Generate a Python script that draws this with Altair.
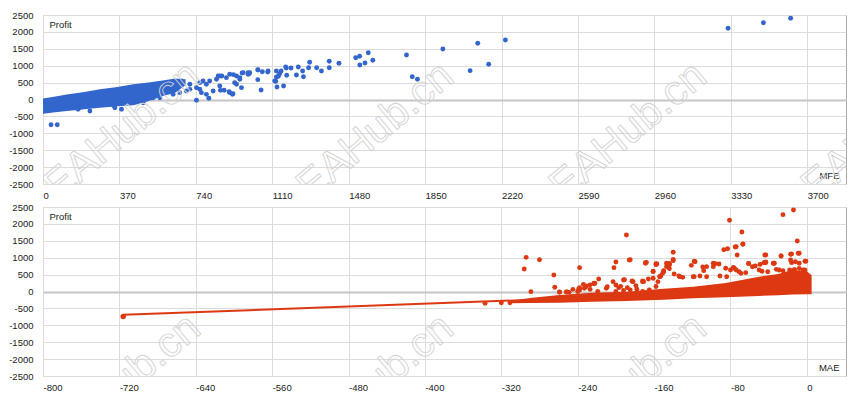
import altair as alt
import pandas as pd

# ---------- top panel: MFE vs Profit ----------
mfe_x = [3317, 3488, 3620, 2239, 2105, 2158, 2068, 1936, 1760, 1788, 1813,
         1575, 1533, 1514, 1597, 1559, 1534, 1433, 1386, 1386, 1348, 1325, 1291, 1286, 1257, 1261,
         1236, 1227, 1201, 1175, 1180, 1153, 1140, 1127, 1165, 1133, 1088, 1056, 1040, 1062, 1040,
         998, 964, 953, 922, 917, 901, 866, 859, 803, 743, 961, 928, 1122, 1130, 1146, 1178, 1130,
         1041, 1090, 993, 969, 937, 904, 888, 856, 840, 807, 791, 759, 743, 711, 694, 662, 630,
         937, 904, 824, 791, 767, 953, 1001, 848, 856, 759, 775, 711, 671, 877, 920, 993,
         566, 533, 485, 445, 380, 348, 340, 39, 69, 170, 227]
mfe_profit = [2106, 2272, 2402, 1760, 1663, 1041, 853, 1494, 1317, 675, 598,
              1385, 1278, 1237, 1160, 1080, 1021, 1071, 1130, 941, 843, 941, 1100, 941, 843, 675,
              962, 725, 932, 962, 716, 843, 686, 538, 400, 370, 814, 281, 883, 823, 587,
              764, 784, 646, 735, 154, 232, 696, 271, 35, -24, 350, 498, 547, 666, 765, 932, 843,
              873, 843, 745, 794, 696, 745, 646, 696, 597, 547, 449, 498, 350, 301, 252, 202, 153,
              449, 202, 252, 153, 202, 597, 794, 695, 400, 302, 547, 450, 547, 272, 172, 793,
              53, 53, -95, -44, -290, -243, -172, -745, -745, -290, -340]

# dense band outline (top panel)
mfe_band_x = [0, 60, 115, 200, 276, 360, 437, 480, 520, 580, 640, 690]
mfe_band_hi = [30, 90, 150, 220, 300, 370, 449, 480, 510, 560, 620, 600]
mfe_band_lo = [-420, -380, -340, -290, -241, -200, -170, -100, -30, 100, 200, 420]

# ---------- bottom panel: MAE vs Profit ----------
mae_x = [-14, -25, -81, -68, -189, -10, -67, -75, -87, -83, -140, -73, -43, -27, -16, -8,
         -294, -280, -185, -140, -200, -169, -158, -144, -118, -98, -43, -34, -16, -1,
         -296, -238, -202, -265, -289, -264, -259, -251, -218, -223, -239, -192, -183, -172, -166,
         -161, -150, -144, -139, -153, -134, -130,
         -118, -108, -105, -98, -92, -85, -80, -76, -71, -61, -54, -45, -47, -35, -29, -14, -8, -4,
         -209, -200, -195, -188, -179, -197, -234, -238, -245, -227, -249,
         -203, -191, -183, -172, -186, -169, -158, -231, -227, -223, -233, -240,
         -219, -210, -200, -192, -185, -178, -172, -165,
         -158, -154, -151, -147, -144, -161, -156, -337, -320, -311,
         -74, -67, -140, -144, -168, -157, -117, -121, -109, -96,
         -61, -49, -44, -43, -35, -27, -17, -9, -2, -17, -12,
         -222, -231, -238, -252, -259, -182, -171, -161, -154, -150, -147,
         -133, -119, -112, -105, -91, -84, -77, -74, -69, -64, -57, -50, -41, -32, -25, -18, -13, -8, -2]
mae_profit = [2411, 2273, 2106, 1760, 1672, 1494, 1396, 1317, 1237, 1266, 1160, 1080, 1080, 1050, 1109, 1130,
              1011, 941, 941, 912, 873, 853, 823, 804, 893, 834, 853, 834, 853, 893,
              666, 705, 705, 488, -5, 124, -20, -10, 370, 231, 74, 340, 301, 291, 370,
              597, 617, 676, 518, 459, 459, 419,
              439, 617, 735, 735, 814, 686, 637, 686, 588, 824, 755, 853, 597, 834, 637, 617, 834, 637,
              143, 192, 153, 114, 173, 114, 212, 114, 64, 64, -25,
              291, 349, 310, 310, 932, 834, 795, 148, 197, 247, 98, 0,
              0, 98, 0, 30, 49, 69, 0, 49,
              148, 439, 538, 834, 785, 587, 292, -350, -331, -331,
              1326, 1405, 951, 832, 862, 812, 882, 774, 725, 822,
              832, 802, 1080, 876, 832, 1050, 1100, 1130, 893, 932, 882,
              242, 163, 44, -15, -15, 292, 292, 390, 440, 587, 735,
              438, 438, 458, 438, 458, 438, 714, 635, 537, 557, 734, 635, 586, 655, 616, 635, 655, 685, 635]

mae_band_x = [-312, -290, -259, -225, -189, -150, -119, -85, -50, -30, -15, 0, 5]
mae_band_hi = [-280, -190, -104, -40, -5, 80, 142, 250, 438, 520, 640, 600, 480]
mae_band_lo = [-345, -338, -331, -305, -280, -245, -202, -170, -130, -110, -90, -80, -80]

mae_line_x = [-716, -250]
mae_line_profit = [-690, -205]
mae_start_x = [-716]
mae_start_profit = [-740]

x_ticks_mfe = list(range(0, 3701, 370))
x_ticks_mae = list(range(-800, 1, 80))
y_ticks = list(range(-2500, 2501, 500))

BLUE = "#3366cc"
RED = "#dc3912"
FONT = "Liberation Sans"
W, H = 803, 169
LABEL = "'' + datum.value"

grid_color = {"condition": {"test": "datum.value === 0", "value": "#c6c6c6"}, "value": "#dcdcdc"}
grid_width = {"condition": {"test": "datum.value === 0", "value": 2}, "value": 1}


def y_enc(field):
    return alt.Y(field, type="quantitative",
                 scale=alt.Scale(domain=[-2500, 2500], nice=False, zero=False),
                 axis=alt.Axis(values=y_ticks, labelExpr=LABEL, ticks=False, tickSize=0, domain=False,
                               labelPadding=10, labelFontSize=9.5, labelFont=FONT, labelColor="#222222",
                               gridColor=grid_color, gridWidth=grid_width,
                               title="Profit", titleAngle=0, titleX=6, titleY=9.5, titleAlign="left",
                               titleBaseline="middle", titleFont=FONT, titleFontSize=9.5,
                               titleFontWeight="normal", titleColor="#222222"))


def x_enc(field, domain, ticks, title):
    return alt.X(field, type="quantitative",
                 scale=alt.Scale(domain=domain, nice=False, zero=False),
                 axis=alt.Axis(values=ticks, labelExpr=LABEL, ticks=False, tickSize=0, domain=False,
                               labelAlign="left", labelBaseline="top", labelPadding=6,
                               labelFontSize=9.5, labelFont=FONT, labelColor="#222222",
                               labelFlush=False, labelOverlap=False, gridColor="#dcdcdc",
                               title=title, titleX=W - 7, titleY=-8.5, titleAlign="right",
                               titleBaseline="middle", titleFont=FONT, titleFontSize=9.5,
                               titleFontWeight="normal", titleColor="#222222"))


def watermarks(centers):
    layers = []
    wm = pd.DataFrame({"t": ["EAHub.cn"]})
    for cx, cy in centers:
        layers.append(
            alt.Chart(wm).mark_text(font=FONT, fontSize=42, angle=320, fillOpacity=0,
                                    stroke="#d2d2d2", strokeWidth=0.9, clip=True,
                                    align="center", baseline="middle")
            .encode(text="t:N", x=alt.value(cx), y=alt.value(cy))
        )
    return layers


# top panel
top_band = pd.DataFrame({"mfe": mfe_band_x, "hi": mfe_band_hi, "lo": mfe_band_lo})
top_pts = pd.DataFrame({"mfe": mfe_x, "profit": mfe_profit})
mfe_dom = [0, 3888]

top_area = alt.Chart(top_band).mark_area(color=BLUE, opacity=1).encode(
    x=x_enc("mfe", mfe_dom, x_ticks_mfe, "MFE"), y=y_enc("hi"), y2="lo")
top_points = alt.Chart(top_pts).mark_circle(color=BLUE, size=24, opacity=1).encode(
    x=x_enc("mfe", mfe_dom, x_ticks_mfe, "MFE"), y=y_enc("profit"))

top = alt.layer(top_area, top_points,
                *watermarks([(79, 116), (332, 116), (585, 116), (837, 116)])
                ).properties(width=W, height=H)

# bottom panel
bot_band = pd.DataFrame({"mae": mae_band_x, "hi": mae_band_hi, "lo": mae_band_lo})
bot_pts = pd.DataFrame({"mae": mae_x, "profit": mae_profit})
bot_line = pd.DataFrame({"mae": mae_line_x, "profit": mae_line_profit})
bot_start = pd.DataFrame({"mae": mae_start_x, "profit": mae_start_profit})
mae_dom = [-800, 41]

bot_area = alt.Chart(bot_band).mark_area(color=RED, opacity=1).encode(
    x=x_enc("mae", mae_dom, x_ticks_mae, "MAE"), y=y_enc("hi"), y2="lo")
bot_ln = alt.Chart(bot_line).mark_line(color=RED, strokeWidth=2).encode(
    x=x_enc("mae", mae_dom, x_ticks_mae, "MAE"), y=y_enc("profit"))
bot_points = alt.Chart(bot_pts).mark_circle(color=RED, size=24, opacity=1).encode(
    x=x_enc("mae", mae_dom, x_ticks_mae, "MAE"), y=y_enc("profit"))
bot_st = alt.Chart(bot_start).mark_circle(color=RED, size=30, opacity=1).encode(
    x=x_enc("mae", mae_dom, x_ticks_mae, "MAE"), y=y_enc("profit"))

bottom = alt.layer(bot_area, bot_ln, bot_points, bot_st,
                   *watermarks([(79, 176), (332, 176), (585, 176), (837, 176)])
                   ).properties(width=W, height=H)

chart = alt.vconcat(top, bottom, spacing=1).resolve_scale(x="independent", y="independent").properties(
    padding={"left": 0, "top": 1, "right": 0, "bottom": 0},
    background="white",
).configure_view(stroke="#a8a8a8", strokeWidth=1)

chart.save("out.html", embed_options={"renderer": "svg", "actions": False})
